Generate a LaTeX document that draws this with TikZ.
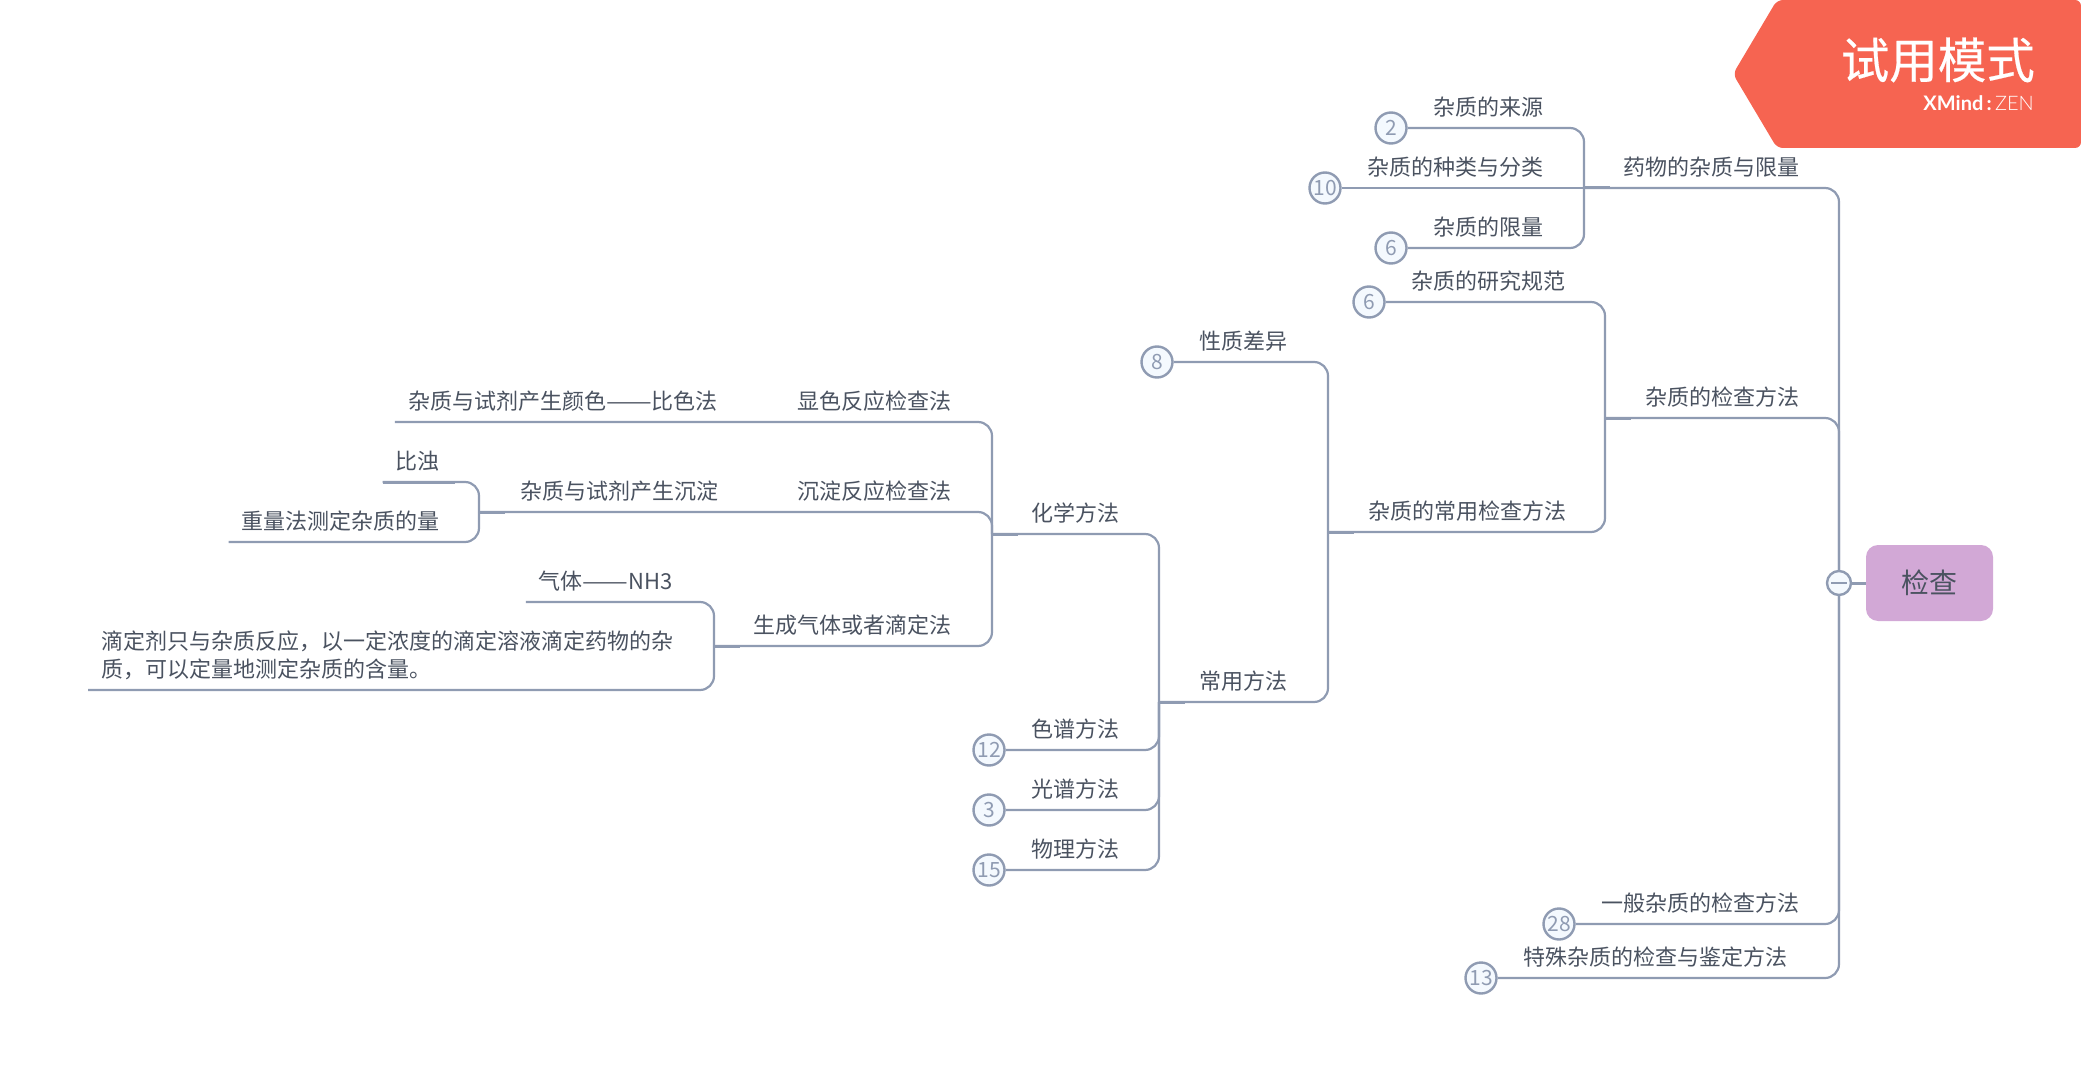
\documentclass[tikz,border=0pt]{standalone}
\usepackage{fontspec}
\usepackage{xcolor}
\usetikzlibrary{arrows.meta, positioning, calc}
\setmainfont{Noto Sans CJK SC}
\newfontfamily\badgefont[FakeBold=0.4]{Noto Sans CJK SC}
\newfontfamily\brandfont{Lato}
\newfontfamily\brandlight[UprightFont=* Light]{Lato}
\newcommand{\longdash}{\scalebox{1.24}[1]{——}}
\definecolor{mline}{RGB}{143, 155, 178}
\definecolor{mtext}{RGB}{74, 82, 96}
\definecolor{mpale}{RGB}{244, 249, 254}
\definecolor{mpurple}{RGB}{210, 168, 214}
\definecolor{mbadge}{RGB}{246, 100, 81}

\begin{document}
\begin{tikzpicture}[x=1pt, y=-1pt,
    topic/.style={anchor=south east, inner xsep=13pt, inner ysep=9.6pt, text=mtext,
      text height=18pt, text depth=3pt, font=\fontsize{22}{28}\selectfont},
    count/.style={circle, draw=mline, line width=2.4pt, fill=mpale, text=mline,
      minimum size=31pt, inner sep=0pt, font=\fontsize{21}{24}\selectfont},
    link/.style={mline, line width=2.2pt, rounded corners=14pt},
    stub/.style={mline, line width=3pt}]
  \useasboundingbox (0,0) rectangle (2081,1067);
  % Trial badge
  \fill[mbadge, rounded corners=6pt] (1733,74) -- (1777,0) -- (2081,0) -- (2081,148)
    -- (1777,148) -- cycle;
  \node[anchor=east, inner sep=0pt, text=white, font=\badgefont\fontsize{48.5}{50}\selectfont] (badgeTitle)
    at (2035,60) {试用模式};
  \node[anchor=east, inner sep=0pt, text=white, font=\fontsize{20}{22}\selectfont] (badgeBrand)
    at (2034,103) {{\brandfont\bfseries XMind}{\brandfont\bfseries\,:\,}{\brandlight ZEN}};
  % Root
  \node[rectangle, rounded corners=12pt, fill=mpurple, text=mtext, minimum width=127pt,
    minimum height=76pt, inner sep=0pt, font=\fontsize{28}{32}\selectfont] (rootTopic)
    at (1929.5,583) {检查};
  \node[count, minimum size=24pt] (rootMinus) at (1839,583) {};
  \draw[mline, line width=1.6pt] (rootMinus) ++(-8,0) -- ++(16,0);
  \draw[stub] (rootMinus) -- (rootTopic);
  % Junctions
  \coordinate (jLimit) at (1584,188);
  \coordinate (jCheck) at (1605,418);
  \coordinate (jCommon) at (1328,532);
  \coordinate (jUsual) at (1159,702);
  \coordinate (jChem) at (992,534);
  \coordinate (jGas) at (714,646);
  \coordinate (jPrec) at (479,512);
  % Counters
  \node[count] (numSource) at (1391,128) {2};
  \node[count] (numKind) at (1325,188) {10};
  \node[count] (numLimit) at (1391,248) {6};
  \node[count] (numNorm) at (1369,302) {6};
  \node[count] (numProp) at (1157,362) {8};
  \node[count] (numChrom) at (989,750) {12};
  \node[count] (numSpec) at (989,810) {3};
  \node[count] (numPhys) at (989,870) {15};
  \node[count] (numGeneral) at (1559,924) {28};
  \node[count] (numSpecial) at (1481,978) {13};
  % Right side topics
  \node[topic] (tLimit) at (1813,188) {药物的杂质与限量};
  \node[topic] (tSource) at (1557,128) {杂质的来源};
  \node[topic] (tKind) at (1557,188) {杂质的种类与分类};
  \node[topic] (tLimitOf) at (1557,248) {杂质的限量};
  \node[topic] (tCheck) at (1813,418) {杂质的检查方法};
  \node[topic] (tNorm) at (1579,302) {杂质的研究规范};
  \node[topic] (tCommon) at (1580,532) {杂质的常用检查方法};
  \node[topic] (tProp) at (1301,362) {性质差异};
  \node[topic] (tUsual) at (1301,702) {常用方法};
  \node[topic] (tGeneral) at (1813,924) {一般杂质的检查方法};
  \node[topic] (tSpecial) at (1801,978) {特殊杂质的检查与鉴定方法};
  % Method topics
  \node[topic] (tChem) at (1133,534) {化学方法};
  \node[topic] (tChrom) at (1133,750) {色谱方法};
  \node[topic] (tSpec) at (1133,810) {光谱方法};
  \node[topic] (tPhys) at (1133,870) {物理方法};
  % Chemical branch
  \node[topic] (tColorM) at (965,422) {显色反应检查法};
  \node[topic] (tPrecM) at (965,512) {沉淀反应检查法};
  \node[topic] (tGasM) at (965,646) {生成气体或者滴定法};
  \node[topic] (tColor) at (731,422) {杂质与试剂产生颜色\longdash 比色法};
  \node[topic] (tPrec) at (732,512) {杂质与试剂产生沉淀};
  \node[topic] (tTurbid) at (453,482) {比浊};
  \node[topic] (tWeigh) at (453,542) {重量法测定杂质的量};
  \node[topic] (tNH) at (686,602) {气体\longdash NH3};
  \node[topic, anchor=south west, text width=578pt, text depth=31pt, align=left] (tTitr) at (88,690)
    {滴定剂只与杂质反应，以一定浓度的滴定溶液滴定药物的杂\\质，可以定量地测定杂质的含量。};
  % Limit branch
  \draw[link] (numSource.east) -| (jLimit);
  \draw[link] (numLimit.east) -| (jLimit);
  \draw[link] (numKind.east) -- (jLimit);
  \draw[link] (jLimit) -| (rootMinus);
  % Check branch
  \draw[link] (numNorm.east) -| (jCheck);
  \draw[link] (jCommon) -| (jCheck);
  \draw[link] (jCheck) -| (rootMinus);
  % Common methods
  \draw[link] (numProp.east) -| (jCommon);
  \draw[link] (jUsual) -| (jCommon);
  \draw[link] (jChem) -| (jUsual);
  \draw[link] (numChrom.east) -| (jUsual);
  \draw[link] (numSpec.east) -| (jUsual);
  \draw[link] (numPhys.east) -| (jUsual);
  % Chemical methods
  \draw[link] (tColor.south west) -| (jChem);
  \draw[link] (jPrec) -| (jChem);
  \draw[link] (jGas) -| (jChem);
  \draw[link] (tTurbid.south west) -| (jPrec);
  \draw[link] (tWeigh.south west) -| (jPrec);
  \draw[link] (tNH.south west) -| (jGas);
  \draw[link] (tTitr.south west) -| (jGas);
  % Lower branches
  \draw[link] (numGeneral.east) -| (rootMinus);
  \draw[link] (numSpecial.east) -| (rootMinus);
  % Heavier starts
  \draw[stub] (jLimit) -- ++(26,0) (jCheck) -- ++(26,0) (jCommon) -- ++(26,0)
    (jUsual) -- ++(26,0) (jChem) -- ++(26,0) (jGas) -- ++(26,0) (jPrec) -- ++(26,0);
  \draw[stub] (tTurbid.south west) -- ++(72,0);
\end{tikzpicture}
\end{document}
